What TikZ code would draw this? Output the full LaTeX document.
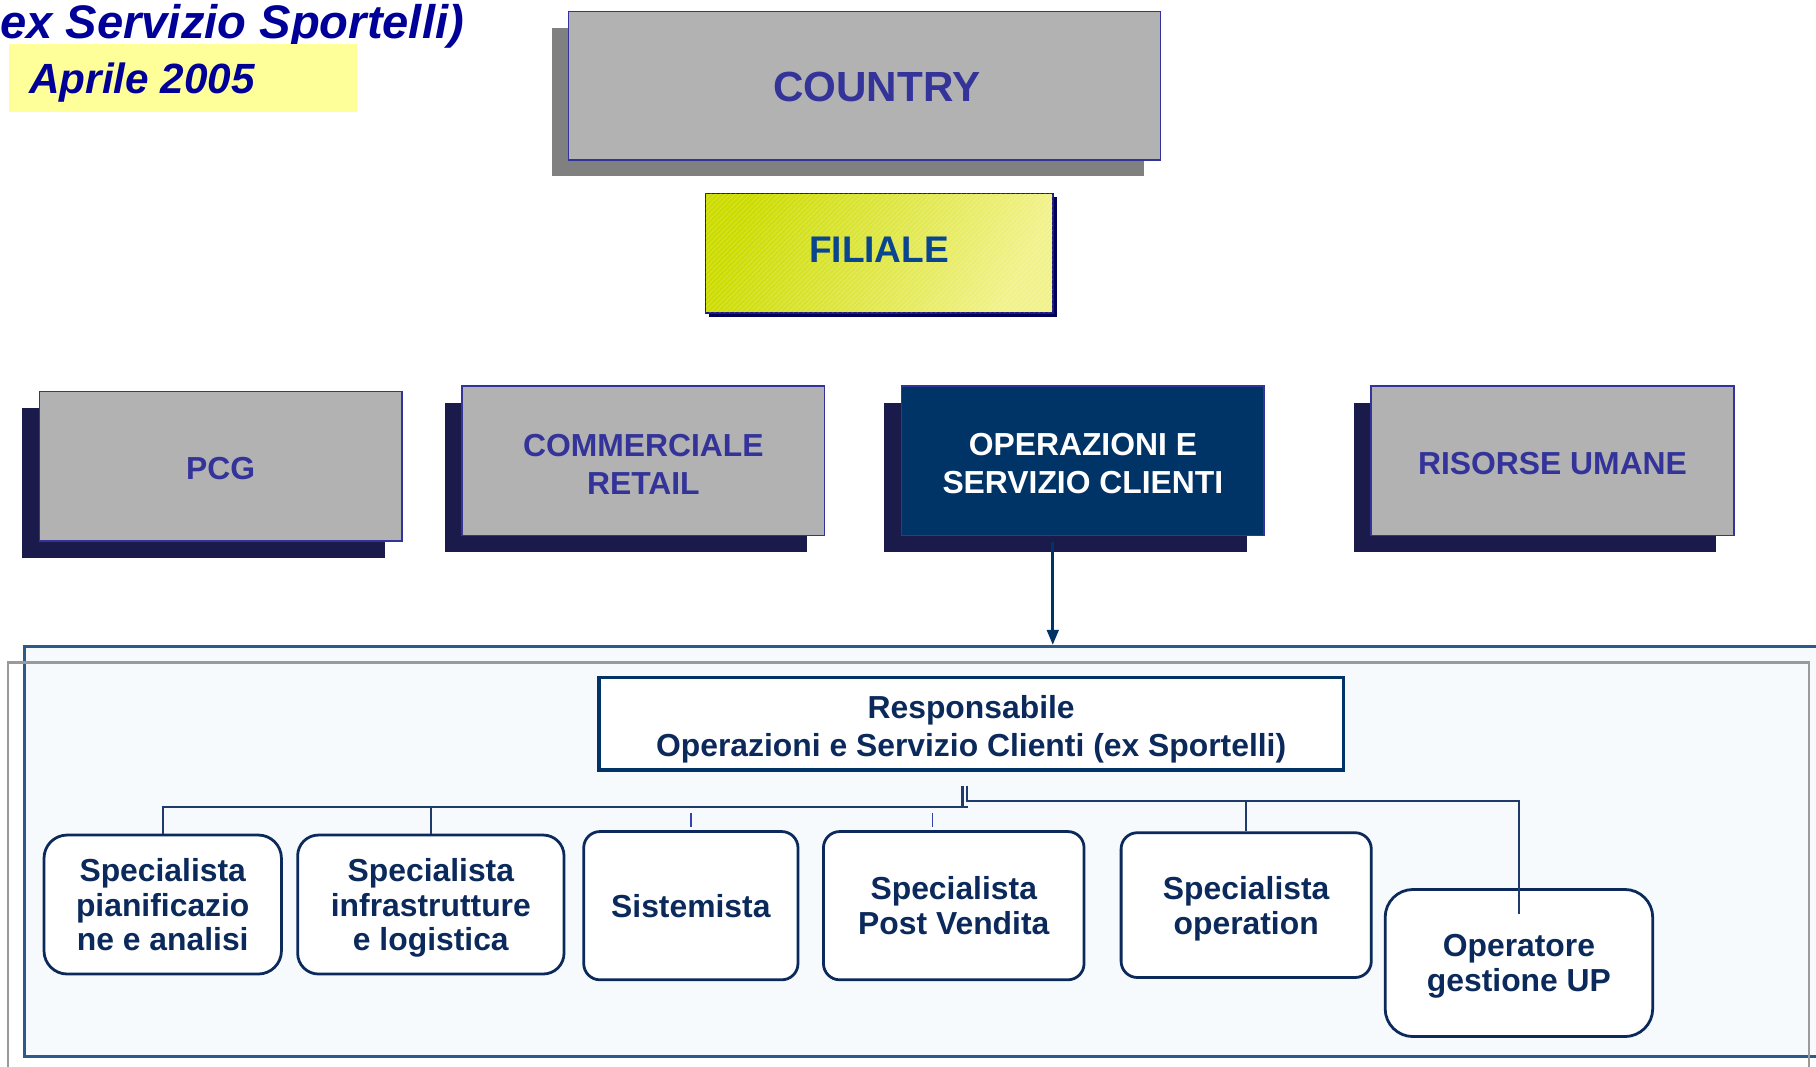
\documentclass[tikz,border=0pt]{standalone}
\usepackage{fontspec}
\setmainfont{Liberation Sans}
\usetikzlibrary{calc,arrows.meta,shadows,patterns.meta}

\definecolor{titleblue}{HTML}{000099}
\definecolor{boxblue}{HTML}{333399}
\definecolor{boxgray}{HTML}{B2B2B2}
\definecolor{shadowgray}{HTML}{808080}
\definecolor{shadownavy}{HTML}{1B1B4B}
\definecolor{opnavy}{HTML}{003366}
\definecolor{notepale}{HTML}{FFFF99}
\definecolor{panelline}{HTML}{2B5B8B}
\definecolor{panelfill}{HTML}{F7FAFD}
\definecolor{framegray}{HTML}{9A9A9A}
\definecolor{inknavy}{HTML}{0B2A5B}
\definecolor{linknavy}{HTML}{1F3B6B}
\definecolor{tickblue}{HTML}{3344AA}
\definecolor{filialetext}{HTML}{0A4590}
\definecolor{filialeedge}{HTML}{1A1A80}
\definecolor{filialeshadow}{HTML}{00005A}
\definecolor{limeA}{HTML}{CCDC00}
\definecolor{limeB}{HTML}{F2F28C}

\tikzset{
  unitbox/.style={draw=boxblue, line width=0.7pt, fill=boxgray, inner sep=0pt,
    minimum width=156.5pt, minimum height=64.5pt},
  unittext/.style={inner sep=0pt, align=center, text=boxblue,
    font=\fontsize{13.75}{16.5}\selectfont\bfseries},
  rowshadow/.style={general shadow={fill=shadownavy, shadow xshift=-7.5pt, shadow yshift=-7.25pt}},
  rolebox/.style={draw=inknavy, line width=1.2pt, fill=white, inner sep=0pt,
    align=center, text=inknavy, text depth=0pt, font=\fontsize{13.75}{15}\selectfont\bfseries},
  link/.style={draw=linknavy, line width=1pt},
  tickmark/.style={draw=tickblue, line width=0.7pt},
  arrowlink/.style={draw=opnavy, line width=1.3pt, -{Triangle[length=6.5pt,width=5pt]}},
}

\begin{document}
\begin{tikzpicture}[x=0.5pt,y=-0.5pt]
\useasboundingbox (0,0) rectangle (1568,921);
\clip (0,0) rectangle (1568,921);

% heading and date tag
\node[anchor=base east, inner sep=0pt, text=titleblue,
  font=\fontsize{20.35}{24}\selectfont\bfseries\itshape] (title) at (401,33) {ex Servizio Sportelli)};
\node[fill=notepale, minimum width=150pt, minimum height=29.5pt, inner sep=0pt] (datebox) at (158,67.5) {};
\node[anchor=base west, inner sep=0pt, text=titleblue,
  font=\fontsize{18.25}{22}\selectfont\bfseries\itshape] (datetext) at (25,81) {Aprile 2005};

% top of the hierarchy
\node[unitbox, minimum width=255.5pt, minimum height=64pt,
  general shadow={fill=shadowgray, shadow xshift=-7pt, shadow yshift=-7pt}] (country) at (746.5,74) {};
\node[unittext, font=\fontsize{18.2}{22}\selectfont\bfseries] (countrylabel) at (757,75) {COUNTRY};

\node[draw=filialeedge, line width=0.7pt, shading=axis, left color=limeA, right color=limeB,
  shading angle=65,
  general shadow={fill=filialeshadow, shadow xshift=1.75pt, shadow yshift=-1.75pt},
  postaction={pattern={Lines[angle=45,distance=1.5pt,line width=0.3pt]}, pattern color=white, opacity=0.22},
  minimum width=150pt, minimum height=51.5pt, inner sep=0pt, text=filialetext, text depth=2.5pt,
  font=\fontsize{16}{19}\selectfont\bfseries] (filiale) at (759,218.5) {FILIALE};

% functional areas
\node[unitbox, rowshadow] (pcg) at (190.5,402.5) {};
\node[unitbox, rowshadow] (comm) at (555.5,398) {};
\node[unitbox, rowshadow, fill=opnavy] (oper) at (935,398) {};
\node[unitbox, rowshadow] (risorse) at (1340.5,398) {};
\node[unittext] (pcgtext) at ($(pcg.center)+(0,2)$) {PCG};
\node[unittext] (commtext) at ($(comm.center)+(0,3)$) {COMMERCIALE\\RETAIL};
\node[unittext, text=white] (opertext) at ($(oper.center)+(0,2.5)$) {OPERAZIONI E\\SERVIZIO CLIENTI};
\node[unittext] (risorsetext) at ($(risorse.center)+(0,2.5)$) {RISORSE UMANE};

% detail panel
\node[draw=panelline, line width=1.2pt, fill=panelfill, minimum width=789.5pt,
  minimum height=177pt, inner sep=0pt] (panel) at (810.5,735) {};
\node[draw=framegray, line width=1.1pt, minimum width=777.5pt,
  minimum height=194pt, inner sep=0pt] (frame) at (784.5,766) {};

\coordinate (opfoot) at ($(oper.south)+(-26,5)$);
\draw[arrowlink] (opfoot) -- (opfoot |- panel.north);

\node[draw=opnavy, line width=1.6pt, fill=white, minimum width=321.5pt, minimum height=40pt,
  inner sep=0pt] (resp) at (838.5,625) {};
\node[unittext, text=inknavy] (resptext) at ($(resp.center)+(0,4.5)$)
  {Responsabile\\Operazioni e Servizio Clienti (ex Sportelli)};

\node[rolebox, rounded corners=10pt, minimum width=102.5pt, minimum height=60pt] (r1) at (140.5,781)
  {Specialista\\pianificazio\\ne e analisi};
\node[rolebox, rounded corners=9pt, minimum width=115pt, minimum height=60pt] (r2) at (372,781)
  {Specialista\\infrastrutture\\e logistica};
\node[rolebox, rounded corners=7pt, minimum width=92.5pt, minimum height=64pt] (r3) at (596.5,782)
  {Sistemista};
\node[rolebox, rounded corners=7pt, minimum width=112.5pt, minimum height=64pt] (r4) at (823.5,782)
  {Specialista\\Post Vendita};
\node[rolebox, rounded corners=7pt, minimum width=108pt, minimum height=62.5pt] (r5) at (1076,781.5)
  {Specialista\\operation};
\node[rolebox, rounded corners=12pt, minimum width=115.5pt, minimum height=63.5pt] (r6) at (1311.5,831.5)
  {Operatore\\gestione UP};

% reporting lines
\coordinate (trunkL) at ($(resp.south)+(-7.5,12)$);
\coordinate (trunkR) at ($(resp.south)+(-3.5,12)$);
\coordinate (busL) at ($(trunkL)+(0,18)$);
\coordinate (busR) at ($(trunkR)+(0,13)$);
\draw[link] (trunkL) -- (busL);
\draw[link] ($(busL)+(5,0)$) -- (busL -| r1.north) -- (r1.north);
\draw[link] (busL -| r2.north) -- (r2.north);
\draw[link] (trunkR) -- (busR) -- (busR -| r6.north) -- ($(r6.north)+(0,22)$);
\draw[link] (busR -| r5.north) -- (r5.north);
\draw[tickmark] ($(r3.north)+(0,-15)$) -- ($(r3.north)+(0,-3)$);
\draw[tickmark] ($(r4.north)+(-18.5,-15)$) -- ($(r4.north)+(-18.5,-3)$);
\end{tikzpicture}
\end{document}
